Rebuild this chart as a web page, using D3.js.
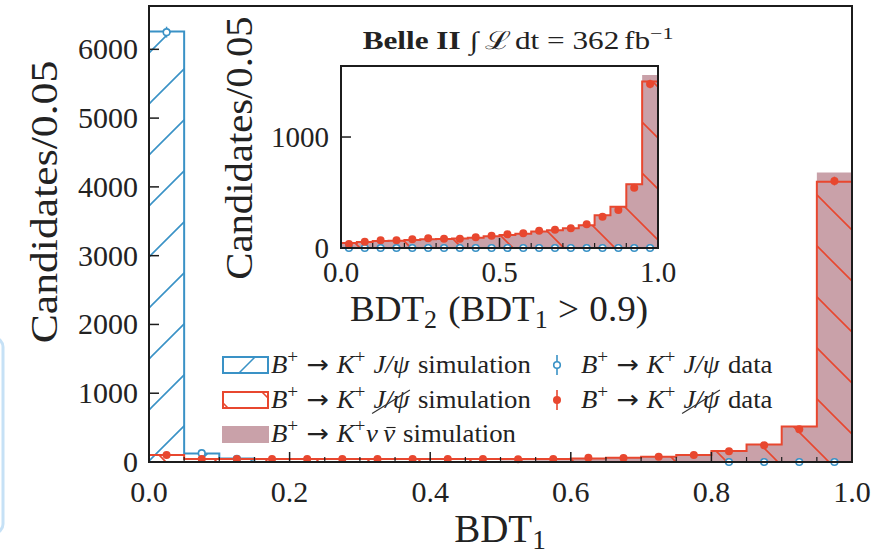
<!DOCTYPE html>
<html><head><meta charset="utf-8">
<script src="https://cdn.jsdelivr.net/npm/d3@7"></script>
<style>
body{margin:0;background:#fff}
svg{display:block}
text{font-family:"Liberation Serif","DejaVu Serif",serif;fill:#222}
</style>
</head><body>
<svg id="c" width="874" height="555"></svg>
<script>
// ---------------- data ----------------
const binLo = [0.00,0.05,0.10,0.15,0.20,0.25,0.30,0.35,0.40,0.45,0.50,0.55,0.60,0.65,0.70,0.75,0.80,0.85,0.90,0.95];
const binWidth = 0.05;

// main panel: BDT1
const jpsiSim  = [6260,125,50,0,0,0,0,0,0,0,0,0,0,0,0,0,0,0,0,0];
const jpsiData = [6250,128,45,null,null,null,null,null,null,null,null,null,null,null,null,null,0,0,0,0];
const vetoSim  = [100,45,45,45,45,45,45,45,45,45,42,45,50,60,78,100,160,255,515,4075];
const vetoData = [100,45,42,45,45,44,45,44,45,43,39,43,63,58,77,100,158,242,475,4085];
const nunuSim  = [8,8,8,8,8,10,10,12,14,16,20,26,42,58,80,102,162,258,522,4210];

// inset panel: BDT2 (BDT1 > 0.9)
const vetoSimIn  = [45,55,62,65,72,78,82,85,92,105,118,128,148,160,178,205,295,372,575,1500];
const vetoDataIn = [36,57,69,69,78,87,84,84,96,111,123,132,156,165,177,213,282,342,543,1477];
const nunuSimIn  = [45,55,62,65,72,78,82,85,92,105,118,128,148,160,178,205,295,372,580,1558];
const jpsiDataIn = [0,0,0,0,0,0,0,0,0,0,0,0,0,0,0,0,0,0,0,0];

const yTicksMain = [0,1000,2000,3000,4000,5000,6000];
const xTicksMain = [0.0,0.2,0.4,0.6,0.8,1.0];
const xMinorMain = [0.05,0.1,0.15,0.25,0.3,0.35,0.45,0.5,0.55,0.65,0.7,0.75,0.85,0.9,0.95];
const yTicksIn = [0,1000];
const xTicksIn = [0.0,0.5,1.0];
const xMinorIn = [0.1,0.2,0.3,0.4,0.6,0.7,0.8,0.9];

// ---------------- setup ----------------
const BLUE = '#3a92c6', RED = '#e8472f', PINK = '#c9a1a9', INK = '#1c1c1c';
const svg = d3.select('#c');

// light-blue artifact at the left edge of the screenshot
svg.append('rect').attr('x',-60).attr('y',338).attr('width',63).attr('height',195)
  .attr('rx',9).attr('fill','none').attr('stroke','#c6e1f6').attr('stroke-width',3);

const defs = svg.append('defs');
defs.append('pattern').attr('id','hb').attr('patternUnits','userSpaceOnUse')
  .attr('width',51).attr('height',51).attr('x',-2).attr('y',0)
  .append('path').attr('d','M-5,5 L5,-5 M0,51 L51,0 M46,56 L56,46')
  .attr('stroke',BLUE).attr('stroke-width',1.6).attr('fill','none');
defs.append('pattern').attr('id','hr').attr('patternUnits','userSpaceOnUse')
  .attr('width',51).attr('height',51).attr('x',10).attr('y',0)
  .append('path').attr('d','M-5,46 L5,56 M0,0 L51,51 M46,-5 L56,5')
  .attr('stroke',RED).attr('stroke-width',1.6).attr('fill','none');

// rich text helper: parts laid out sequentially
function rich(parent, x, y, parts, opt) {
  const size = opt.size, sx = opt.sx || 1;
  const g = parent.append('g');
  let cx = 0;
  parts.forEach(p => {
    const fs = size * (p.scale || 1);
    cx += (p.pre || 0) * size;
    const t = g.append('text')
      .attr('x', cx).attr('y', (p.dy || 0) * size)
      .attr('font-size', fs)
      .attr('font-style', p.i ? 'italic' : 'normal')
      .attr('font-weight', p.b ? 'bold' : 'normal')
      .text(p.t);
    if (p.font) t.style('font-family', p.font);
    const w = t.node().getComputedTextLength();
    if (p.strike) {
      g.append('line').attr('x1', cx - 0.05*fs).attr('y1', 0.22*fs)
        .attr('x2', cx + w + 0.02*fs).attr('y2', -0.72*fs)
        .attr('stroke', '#333').attr('stroke-width', 1.1);
    }
    if (p.bar) {
      g.append('line').attr('x1', cx + 0.12*fs).attr('x2', cx + w + 0.02*fs)
        .attr('y1', -0.58*fs).attr('y2', -0.58*fs)
        .attr('stroke', '#222').attr('stroke-width', 1.1);
    }
    cx += w + (p.post || 0) * size;
  });
  const a = opt.anchor || 'start';
  const off = a === 'middle' ? -cx*sx/2 : a === 'end' ? -cx*sx : 0;
  g.attr('transform', `translate(${x+off},${y}) scale(${sx},1)`);
  return {g, width: cx*sx};
}

function stepPts(vals, xs, ys) {
  const pts = [[xs(binLo[0]), ys(0)]];
  vals.forEach((v,i) => { pts.push([xs(binLo[i]), ys(v)]); pts.push([xs(binLo[i]+binWidth), ys(v)]); });
  pts.push([xs(binLo[binLo.length-1]+binWidth), ys(0)]);
  return pts;
}
const line = d3.line();

function drawPanel(g, xs, ys, sets) {
  const {pink, blueSim, redSim, blueData, redData} = sets;
  if (pink) g.append('path').attr('d', line(stepPts(pink, xs, ys)) + 'Z').attr('fill', PINK).attr('stroke','none');
  if (blueSim) {
    g.append('path').attr('d', line(stepPts(blueSim, xs, ys)) + 'Z').attr('fill','url(#hb)');
    g.append('path').attr('d', line(stepPts(blueSim, xs, ys))).attr('fill','none').attr('stroke',BLUE).attr('stroke-width',2);
  }
  if (redSim) {
    g.append('path').attr('d', line(stepPts(redSim, xs, ys)) + 'Z').attr('fill','url(#hr)');
    g.append('path').attr('d', line(stepPts(redSim, xs, ys))).attr('fill','none').attr('stroke',RED).attr('stroke-width',2);
  }
  const pts = (vals) => vals.map((v,i) => ({v, c: binLo[i] + binWidth/2})).filter(d => d.v !== null);
  if (blueData) {
    const d = pts(blueData);
    g.selectAll(null).data(d).enter().append('line')
      .attr('x1', e => xs(e.c)).attr('x2', e => xs(e.c))
      .attr('y1', e => ys(e.v + Math.sqrt(e.v))).attr('y2', e => ys(Math.max(0, e.v - Math.sqrt(e.v))))
      .attr('stroke', BLUE).attr('stroke-width', 1.5);
    g.selectAll(null).data(d).enter().append('circle')
      .attr('cx', e => xs(e.c)).attr('cy', e => ys(e.v)).attr('r', 3.3)
      .attr('fill','#fff').attr('stroke',BLUE).attr('stroke-width',1.6);
  }
  if (redData) {
    const d = pts(redData);
    g.selectAll(null).data(d).enter().append('line')
      .attr('x1', e => xs(e.c)).attr('x2', e => xs(e.c))
      .attr('y1', e => ys(e.v + Math.sqrt(e.v))).attr('y2', e => ys(Math.max(0, e.v - Math.sqrt(e.v))))
      .attr('stroke', RED).attr('stroke-width', 1.5);
    g.selectAll(null).data(d).enter().append('circle')
      .attr('cx', e => xs(e.c)).attr('cy', e => ys(e.v)).attr('r', 4)
      .attr('fill', RED);
  }
}

function drawAxes(g, xs, ys, xt, xm, yt, fmtX, fs, ylabx, xlaby) {
  const [x0,x1] = xs.range(), [y0,y1] = ys.range(); // y0 bottom
  g.selectAll(null).data(xt).enter().append('line')
    .attr('x1', d => xs(d)).attr('x2', d => xs(d)).attr('y1', y0).attr('y2', y0 - 10)
    .attr('stroke', INK).attr('stroke-width', 1.5);
  g.selectAll(null).data(xm).enter().append('line')
    .attr('x1', d => xs(d)).attr('x2', d => xs(d)).attr('y1', y0).attr('y2', y0 - 5)
    .attr('stroke', INK).attr('stroke-width', 1.2);
  g.selectAll(null).data(yt).enter().append('line')
    .attr('x1', x0).attr('x2', x0 + 10).attr('y1', d => ys(d)).attr('y2', d => ys(d))
    .attr('stroke', INK).attr('stroke-width', 1.5);
  g.append('rect').attr('x', x0).attr('y', y1).attr('width', x1 - x0).attr('height', y0 - y1)
    .attr('fill','none').attr('stroke', INK).attr('stroke-width', 2);
  g.selectAll(null).data(xt).enter().append('text')
    .attr('x', d => xs(d)).attr('y', xlaby).attr('text-anchor','middle').attr('font-size', fs)
    .text(d => fmtX(d));
  g.selectAll(null).data(yt).enter().append('text')
    .attr('x', ylabx).attr('y', d => ys(d) + fs*0.33).attr('text-anchor','end').attr('font-size', fs)
    .text(d => d);
}

// ---------------- main panel ----------------
const M = {l:149, r:852, t:6, b:462};
const x = d3.scaleLinear().domain([0,1]).range([M.l, M.r]);
const y = d3.scaleLinear().domain([0,6630]).range([M.b, M.t]);
const gMain = svg.append('g');
drawPanel(gMain, x, y, {pink: nunuSim, blueSim: jpsiSim, redSim: vetoSim, blueData: jpsiData, redData: vetoData});
drawAxes(gMain, x, y, xTicksMain, xMinorMain, yTicksMain, d3.format('.1f'), 30, 138, 502);

// main axis labels
{
  const gy = svg.append('g').attr('transform','translate(57,202) rotate(-90)');
  rich(gy, 0, 0, [{t:'Candidates/0.05'}], {size: 39, anchor:'middle', sx: 1.12});
  rich(svg, 500, 542, [{t:'BDT'}, {t:'1', scale:0.7, dy:0.18}], {size: 39, anchor:'middle'});
}

// ---------------- title ----------------
rich(svg, 518, 49, [
  {t:'Belle II', b:true, post:0.3},
  {t:'∫', post:0.2},
  {t:'ℒ', post:0.12},
  {t:'dt', post:0.25},
  {t:'=', post:0.25},
  {t:'362', post:0.15},
  {t:'fb'},
  {t:'−1', scale:0.7, dy:-0.42}
], {size: 25, anchor:'middle', sx: 1.25});

// ---------------- inset ----------------
const I = {l:341, r:658, t:66, b:248};
const xi = d3.scaleLinear().domain([0,1]).range([I.l, I.r]);
const yi = d3.scaleLinear().domain([0,1640]).range([I.b, I.t]);
const gIn = svg.append('g');
gIn.append('rect').attr('x', I.l).attr('y', I.t).attr('width', I.r-I.l).attr('height', I.b-I.t).attr('fill','#fff');
drawPanel(gIn, xi, yi, {pink: nunuSimIn, redSim: vetoSimIn, blueData: jpsiDataIn, redData: vetoDataIn});
drawAxes(gIn, xi, yi, xTicksIn, xMinorIn, yTicksIn, d3.format('.1f'), 29, 329, 282);
{
  const gy = svg.append('g').attr('transform','translate(252,148) rotate(-90)');
  rich(gy, 0, 0, [{t:'Candidates/0.05'}], {size: 37, anchor:'middle', sx: 1.1});
  rich(svg, 499, 321, [
    {t:'BDT'}, {t:'2', scale:0.7, dy:0.2, post:0.3},
    {t:'(BDT'}, {t:'1', scale:0.7, dy:0.2, post:0.28},
    {t:'>', post:0.28}, {t:'0.9)'}
  ], {size: 36, anchor:'middle', sx: 1.03});
}

// ---------------- legend ----------------
const LG = svg.append('g');
const lgSize = 25;
const rowY = [365, 400, 434];
const col1x = 271, col2x = 581;
// patches
LG.append('rect').attr('x',223).attr('y',rowY[0]-8).attr('width',45).attr('height',16)
  .attr('fill','none').attr('stroke',BLUE).attr('stroke-width',2);
LG.append('line').attr('x1',239).attr('y1',rowY[0]+8).attr('x2',255).attr('y2',rowY[0]-8)
  .attr('stroke',BLUE).attr('stroke-width',1.6);
LG.append('rect').attr('x',223).attr('y',rowY[1]-8).attr('width',45).attr('height',16)
  .attr('fill','none').attr('stroke',RED).attr('stroke-width',2);
LG.append('line').attr('x1',262).attr('y1',rowY[1]-8).attr('x2',268).attr('y2',rowY[1]-2)
  .attr('stroke',RED).attr('stroke-width',1.6);
LG.append('line').attr('x1',223).attr('y1',rowY[1]+3).attr('x2',228).attr('y2',rowY[1]+8)
  .attr('stroke',RED).attr('stroke-width',1.6);
LG.append('rect').attr('x',222).attr('y',rowY[2]-8).attr('width',47).attr('height',17)
  .attr('fill',PINK);
// markers
LG.append('line').attr('x1',557).attr('x2',557).attr('y1',rowY[0]-10).attr('y2',rowY[0]+10)
  .attr('stroke',BLUE).attr('stroke-width',1.6);
LG.append('circle').attr('cx',557).attr('cy',rowY[0]).attr('r',3.3).attr('fill','#fff').attr('stroke',BLUE).attr('stroke-width',1.6);
LG.append('line').attr('x1',557).attr('x2',557).attr('y1',rowY[1]-10).attr('y2',rowY[1]+10)
  .attr('stroke',RED).attr('stroke-width',1.6);
LG.append('circle').attr('cx',557).attr('cy',rowY[1]).attr('r',4).attr('fill',RED);

const arrow = {t:'→', font:'"DejaVu Sans"', post:0.3};
const head = [
  {t:'B', i:true}, {t:'+', scale:0.72, dy:-0.42, post:0.3},
  arrow,
  {t:'K', i:true}, {t:'+', scale:0.72, dy:-0.42, post:0.3}
];
const jpsi = {t:'J/ψ', i:true, post:0.32};
const jpsiVeto = {t:'J/ψ', i:true, post:0.32, strike:true};
rich(LG, col1x, rowY[0]+8, [...head, jpsi, {t:'simulation'}], {size: lgSize, sx:1.07});
rich(LG, col1x, rowY[1]+8, [...head, jpsiVeto, {t:'simulation'}], {size: lgSize, sx:1.07});
rich(LG, col1x, rowY[2]+8, [
  {t:'B', i:true}, {t:'+', scale:0.72, dy:-0.42, post:0.3},
  arrow,
  {t:'K', i:true}, {t:'+', scale:0.72, dy:-0.42, post:0.02},
  {t:'ν', i:true, post:0.2}, {t:'ν', i:true, bar:true, post:0.3},
  {t:'simulation'}
], {size: lgSize, sx:1.07});
rich(LG, col2x, rowY[0]+8, [...head, jpsi, {t:'data'}], {size: lgSize, sx:1.07});
rich(LG, col2x, rowY[1]+8, [...head, jpsiVeto, {t:'data'}], {size: lgSize, sx:1.07});
</script>
</body></html>
